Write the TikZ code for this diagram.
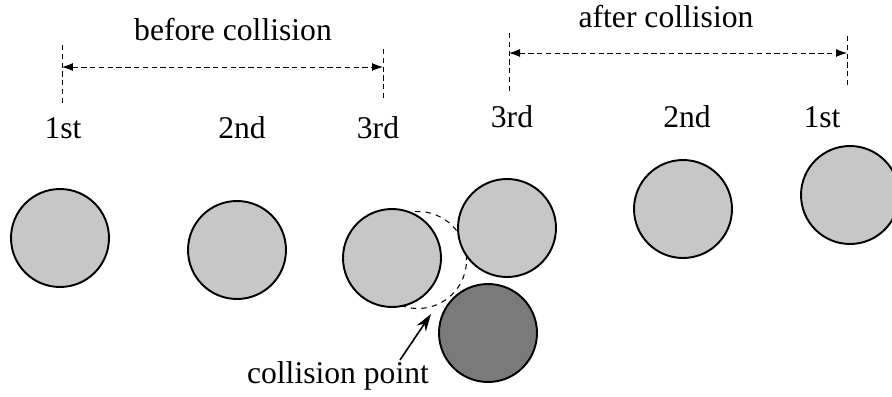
\documentclass[tikz,border=0pt]{standalone}
\usepackage{fontspec}
\setmainfont{Liberation Serif}
\usetikzlibrary{arrows.meta,positioning,calc}
\tikzset{
  ball/.style   = {draw, circle, line width=1.1pt, fill=black!22, inner sep=0pt,
                   minimum size=1.96cm},
  hitball/.style= {ball, fill=black!52},
  ghost/.style  = {draw, circle, dashed, line width=0.6pt, inner sep=0pt,
                   minimum size=1.94cm},
  lbl/.style    = {font=\fontsize{18}{20}\selectfont, anchor=base, inner sep=0pt},
  tick/.style   = {densely dashed, line width=0.5pt},
  span/.style   = {{Latex[length=2.2mm,width=1.6mm]}-{Latex[length=2.2mm,width=1.6mm]},
                   densely dashed, line width=0.5pt},
  e/.style      = {-{Stealth[length=3.5mm,width=2.2mm]}, line width=0.9pt}
}
\begin{document}
\begin{tikzpicture}[x=0.02cm,y=-0.02cm]
  \useasboundingbox (0,0) rectangle (892,396);
  % ---- before collision ----
  \node[lbl] (tb) at (233,40) {before collision};
  \coordinate (bl1) at (62,45);  \coordinate (bl2) at (62,105);
  \coordinate (br1) at (383,49); \coordinate (br2) at (383,99);
  \draw[tick] (bl1) -- (bl2); \draw[tick] (br1) -- (br2);
  \coordinate (bl) at (62,67); \coordinate (br) at (383,67);
  \draw[span] (bl) -- (br);
  \node[lbl] (b1st) at (63,138)  {1st};
  \node[lbl] (b2nd) at (242,138) {2nd};
  \node[lbl] (b3rd) at (378,138) {3rd};
  % ---- after collision ----
  \node[lbl] (ta) at (666,27) {after collision};
  \coordinate (al1) at (509,33); \coordinate (al2) at (509,93);
  \coordinate (ar1) at (847,36); \coordinate (ar2) at (847,86);
  \draw[tick] (al1) -- (al2); \draw[tick] (ar1) -- (ar2);
  \coordinate (al) at (509,53); \coordinate (ar) at (847,53);
  \draw[span] (al) -- (ar);
  \node[lbl] (a3rd) at (512,127) {3rd};
  \node[lbl] (a2nd) at (687,127) {2nd};
  \node[lbl] (a1st) at (822,127) {1st};
  % ---- balls ----
  \node[ball] (p1) at (60,238)  {};
  \node[ball] (p2) at (237,250) {};
  \node[ghost] (gh) at (418,260) {};
  \node[ball] (p3) at (392,258) {};
  \node[ball] (q3) at (507,228) {};
  \node[hitball] (hb) at (488,333) {};
  \node[ball] (q2) at (683,209) {};
  \node[ball] (q1) at (850,195) {};
  % ---- collision point ----
  \node[lbl] (cp) at (338,383) {collision point};
  \coordinate (tail) at (400,360);
  \coordinate (hit) at (431,314);
  \draw[e] (tail) -- (hit);
\end{tikzpicture}
\end{document}
